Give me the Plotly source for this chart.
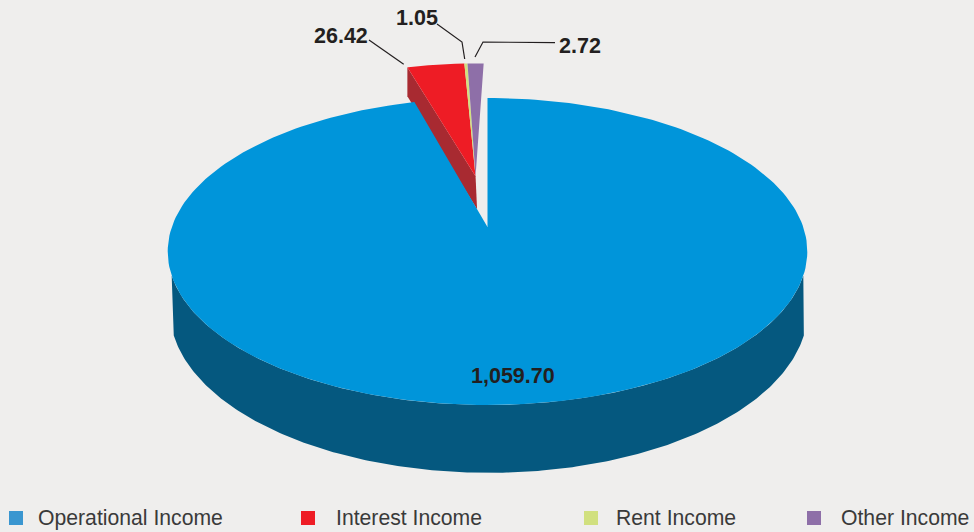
import numpy as np
import plotly.graph_objects as go

# ---- data ----
categories = ["Operational Income", "Interest Income", "Rent Income", "Other Income"]
values = [1059.70, 26.42, 1.05, 2.72]
# The source drawing is not to scale: sweep of each slice as actually drawn (degrees)
drawn_sweep_deg = [344.5, 13.1, 0.7, 3.7]
value_labels = ["1,059.70", "26.42", "1.05", "2.72"]

# ---- styles ----
top_colors = ["#0095da", "#ee1c25", "#d1e07f", "#8e6fa8"]
legend_colors = ["#3a96d0", "#ee1c25", "#d1e07f", "#8e6fa8"]
MAIN_WALL = "#05587f"
RED_WALL = "#a82a31"
BG = "#efeeed"
FONT = "Liberation Sans, Arial, sans-serif"

# ---- perspective projection of the pie's disc ----
CX, CY, A, B, K = 487.5, 227.0, 315.7, 149.6, 0.1596
MAIN_DEPTH, SMALL_DEPTH = 57.0, 35.0
SMALL_OFFSET = (-0.04, 0.359)   # explosion of the small slices on the disc
SMALL_R = 0.965
SMALL_START = -16.0


def project(u, v, depth=0.0):
    den = 1 + K * v
    return CX + A * u / den, CY - B * v / den + depth / den


def arc(t0, t1, r=1.0, off=(0.0, 0.0), depth=0.0, n=240):
    t = np.radians(np.linspace(t0, t1, n))
    return project(off[0] + r * np.sin(t), off[1] + r * np.cos(t), depth)


def wedge(t0, t1, r=1.0, off=(0.0, 0.0)):
    x, y = arc(t0, t1, r, off)
    ax, ay = project(off[0], off[1])
    return np.r_[ax, x, ax], np.r_[ay, y, ay]


def poly(x, y, color, name, show=False):
    return go.Scatter(x=x, y=y, mode="lines", fill="toself", fillcolor=color,
                      line=dict(width=0, color=color), name=name,
                      showlegend=show, hoverinfo="name")


fig = go.Figure()

# main slice: rim, drawn only across the front
xt, yt = arc(108, 252)
xb, yb = arc(108, 252, depth=MAIN_DEPTH)
xb = CX + (xb - CX) * 0.9975 + 1.3
fig.add_trace(poly(np.r_[xt, xb[::-1], xt[0]], np.r_[yt, yb[::-1], yt[0]], MAIN_WALL, categories[0] + " rim"))

# small slices: the cut face seen from the left
ox, oy = project(SMALL_OFFSET[0] + SMALL_R * np.sin(np.radians(SMALL_START)),
                 SMALL_OFFSET[1] + SMALL_R * np.cos(np.radians(SMALL_START)))
oxb, oyb = project(SMALL_OFFSET[0] + SMALL_R * np.sin(np.radians(SMALL_START)),
                   SMALL_OFFSET[1] + SMALL_R * np.cos(np.radians(SMALL_START)), SMALL_DEPTH)
ax, ay = project(*SMALL_OFFSET)
axb, ayb = project(*SMALL_OFFSET, SMALL_DEPTH)
fig.add_trace(poly([ox, oxb, axb + 1.5, ax, ox], [oy, oyb, ayb, ay, oy], RED_WALL, categories[1] + " side"))

# main slice top (starts at 12 o'clock, clockwise)
x, y = wedge(0, drawn_sweep_deg[0])
fig.add_trace(poly(x, y, top_colors[0], categories[0]))

# small slice tops
start = SMALL_START
for i in (1, 2, 3):
    x, y = wedge(start, start + drawn_sweep_deg[i], SMALL_R, SMALL_OFFSET)
    fig.add_trace(poly(x, y, top_colors[i], categories[i]))
    start += drawn_sweep_deg[i]

# legend keys
legend_key_x = [16, 308, 591, 814]
legend_text_x = [35.5, 334, 613.5, 838.5]
fig.add_trace(go.Scatter(x=legend_key_x, y=[518] * 4, mode="markers", hoverinfo="skip", showlegend=False,
                         marker=dict(symbol="square", size=14, color=legend_colors, line=dict(width=0))))

annotations = []
for tx, name in zip(legend_text_x, categories):
    annotations.append(dict(x=tx, y=517.6, text=name, xanchor="left", yanchor="middle", showarrow=False,
                            xref="x", yref="y", font=dict(family=FONT, size=21.2, color="#3a3a3a")))

label_pos = [(513, 376), (340.5, 35.5), (417, 17.5), (579.5, 45.5)]
for (lx, ly), txt in zip(label_pos, value_labels):
    annotations.append(dict(x=lx, y=ly, text=f"<b>{txt}</b>", xanchor="center", yanchor="middle", showarrow=False,
                            xref="x", yref="y", font=dict(family=FONT, size=21.5, color="#231f20")))

leaders = ["M369,40 L403.7,64.3", "M437,24 L462,42 L464.7,59", "M555,42.7 L483,42 L475,57"]
shapes = [dict(type="path", path=p, xref="x", yref="y", line=dict(color="#231f20", width=1.2)) for p in leaders]

fig.update_layout(
    width=974, height=532, margin=dict(l=0, r=0, t=0, b=0, pad=0),
    paper_bgcolor=BG, plot_bgcolor=BG, showlegend=False,
    xaxis=dict(range=[0, 974], visible=False, fixedrange=True),
    yaxis=dict(range=[532, 0], visible=False, fixedrange=True),
    annotations=annotations, shapes=shapes,
)
fig.write_html("out.html", config={"displayModeBar": False},
               post_script="document.body.style.margin='0';document.body.style.background='%s';" % BG)
